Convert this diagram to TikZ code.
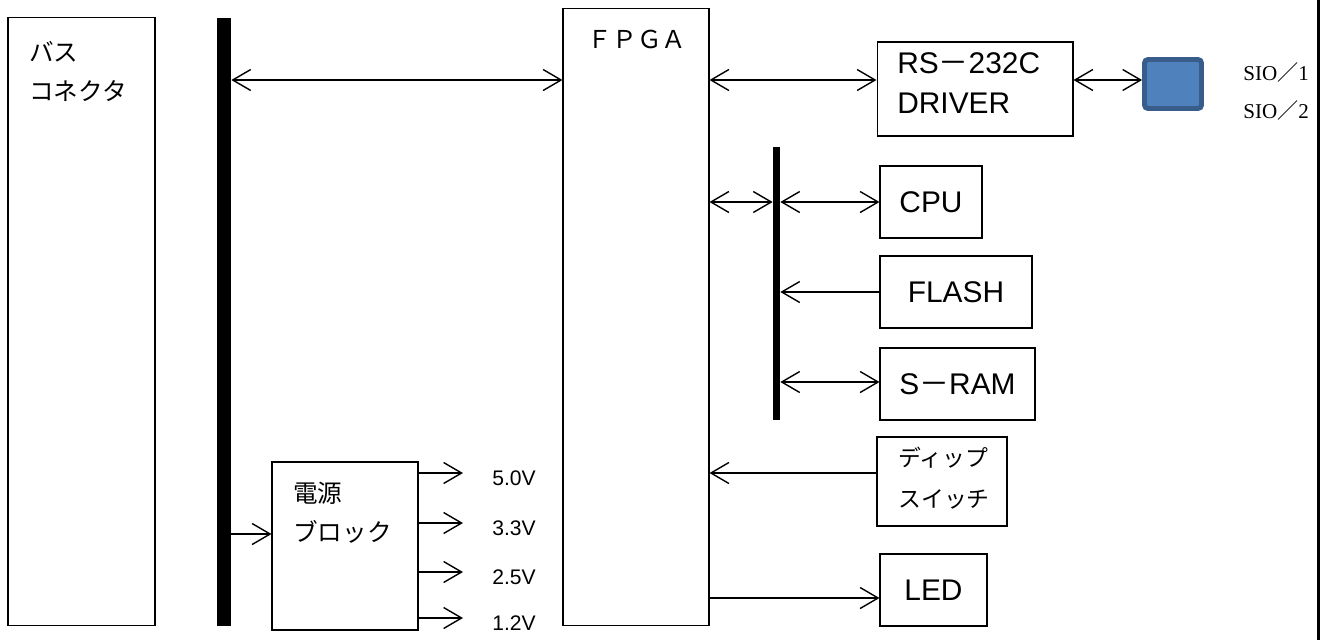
\documentclass[tikz,border=0pt]{standalone}
\usepackage{fontspec}
\setmainfont{Liberation Sans}
\newfontfamily\cjk{Noto Sans CJK JP}
\newfontfamily\serif{Liberation Serif}
\usetikzlibrary{arrows.meta}
\tikzset{
  blocco/.style={draw,line width=0.6pt,inner sep=0pt},
  barra/.style={fill=black,inner sep=0pt,minimum width=#1},
  freccia/.style={line width=0.8pt,-{Straight Barb[length=0.36cm,width=0.42cm]}},
  doppia/.style={line width=0.8pt,{Straight Barb[length=0.36cm,width=0.42cm]}-{Straight Barb[length=0.36cm,width=0.42cm]}},
  testo/.style={font=\fontsize{17}{20}\selectfont,inner sep=0pt},
  jtesto/.style={font=\cjk\fontsize{14}{17}\selectfont,inner sep=0pt,anchor=west},
  volt/.style={font=\fontsize{12}{14}\selectfont,inner sep=0pt,anchor=west},
  siotesto/.style={font=\serif\fontsize{12}{14}\selectfont,inner sep=0pt,anchor=west},
  porta/.style={fill={rgb,255:red,79;green,129;blue,189},draw={rgb,255:red,56;green,93;blue,138},line width=2.8pt,rounded corners=2pt,minimum width=1.14cm,minimum height=0.98cm,inner sep=0pt}
}
\begin{document}
\begin{tikzpicture}[x=0.02cm,y=-0.02cm]
    \useasboundingbox (0,0) rectangle (1329,640);

    %connettore bus
    \node[blocco,minimum width=2.94cm,minimum height=12.18cm] (busconn) at (81.5,321.5) {};
    \node[jtesto] (busconnA) at (29,52) {バス};
    \node[jtesto] (busconnB) at (29,91) {コネクタ};
    \node[barra=0.28cm,minimum height=12.16cm] (bus1) at (224,322) {};

    %fpga
    \node[blocco,minimum width=2.92cm,minimum height=12.36cm] (fpga) at (636,317) {};
    \node[font=\cjk\fontsize{14}{17}\selectfont,inner sep=0pt] (fpgatxt) at (637,39) {ＦＰＧＡ};

    %driver seriale
    \node[blocco,minimum width=3.92cm,minimum height=1.88cm] (rs) at (975,89) {};
    \node[testo,anchor=west] (rsA) at (897,63.5) {RS{\cjk －}232C};
    \node[testo,anchor=west] (rsB) at (897,103) {DRIVER};
    \node[porta] (sio) at (1173,84) {};
    \node[siotesto] (sio1) at (1243,72) {SIO{\cjk ／}1};
    \node[siotesto] (sio2) at (1243,110) {SIO{\cjk ／}2};
    \draw[line width=1.7pt] (1318,0) -- (1318,640);

    %bus locale
    \node[barra=0.14cm,minimum height=5.46cm] (bus2) at (776.5,283.5) {};
    \node[blocco,testo,minimum width=2.04cm,minimum height=1.44cm] (cpu) at (931,202) {CPU};
    \node[blocco,testo,minimum width=3.04cm,minimum height=1.44cm] (flash) at (956,292) {FLASH};
    \node[blocco,testo,minimum width=3.1cm,minimum height=1.44cm] (sram) at (957.5,384) {S{\cjk －}RAM};

    %dip switch e led
    \node[blocco,minimum width=2.6cm,minimum height=1.78cm] (dip) at (942,481.5) {};
    \node[jtesto,font=\cjk\fontsize{13}{16}\selectfont] (dipA) at (898,458) {ディップ};
    \node[jtesto,font=\cjk\fontsize{13}{16}\selectfont] (dipB) at (898,499) {スイッチ};
    \node[blocco,testo,minimum width=2.14cm,minimum height=1.44cm] (led) at (933.5,590) {LED};

    %alimentazione
    \node[blocco,minimum width=2.92cm,minimum height=3.36cm] (power) at (345,546) {};
    \node[jtesto] (powerA) at (293,493) {電源};
    \node[jtesto] (powerB) at (293,532) {ブロック};

    %collegamenti
    \draw[doppia] (bus1.east |- 0,80) -- (fpga.west |- 0,80);
    \draw[doppia] (fpga.east |- 0,80) -- (rs.west |- 0,80);
    \draw[doppia] (rs.east |- 0,80) -- (sio.west |- 0,80);
    \draw[doppia] (fpga.east |- cpu) -- (bus2.west |- cpu);
    \draw[doppia] (bus2.east |- cpu) -- (cpu.west);
    \draw[freccia] (flash.west) -- (bus2.east |- flash);
    \draw[doppia] (bus2.east |- 0,382) -- (sram.west |- 0,382);
    \draw[freccia] (dip.west |- 0,473) -- (fpga.east |- 0,473);
    \draw[freccia] (fpga.east |- 0,598) -- (led.west |- 0,598);
    \draw[freccia] (bus1.east |- 0,534) -- (power.west |- 0,534);
    \foreach \v/\y [count=\i] in {5.0V/473,3.3V/523,2.5V/572,1.2V/618}{
        \coordinate (out\i) at (463,\y);
        \draw[freccia] (power.east |- out\i) -- (out\i);
        \node[volt] (volt\i) at (492,\y+5) {\v};
    }
\end{tikzpicture}
\end{document}
